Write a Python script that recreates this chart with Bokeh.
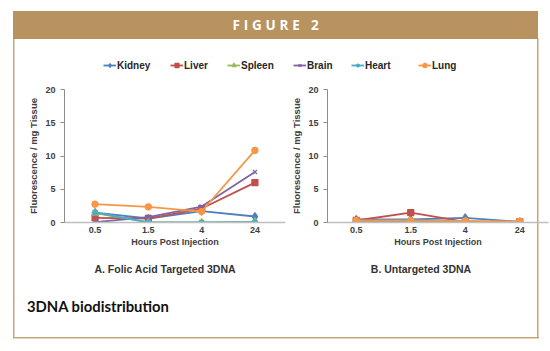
from bokeh.plotting import figure
from bokeh.models import FactorRange, Range1d, Legend, LegendItem, Div, FixedTicker
from bokeh.layouts import column, row
from bokeh.embed import file_html
from bokeh.resources import INLINE

# ---------------- data ----------------
categories = ["0.5", "1.5", "4", "24"]
y_ticks = [0, 5, 10, 15, 20]
series_names = ["Kidney", "Liver", "Spleen", "Brain", "Heart", "Lung"]

# A. Folic Acid Targeted 3DNA
kidney_a = [1.5, 0.6, 1.7, 0.9]
liver_a = [0.7, 0.6, 2.1, 6.0]
spleen_a = [1.4, 0.05, 0.0, 0.1]
brain_a = [0.05, 0.8, 2.4, 7.6]
heart_a = [1.5, 0.0, 0.0, 0.05]
lung_a = [2.75, 2.35, 1.65, 10.85]

# B. Untargeted 3DNA
kidney_b = [0.45, 0.45, 0.7, 0.1]
liver_b = [0.3, 1.5, 0.1, 0.1]
spleen_b = [0.05, 0.05, 0.05, 0.05]
brain_b = [0.1, 0.1, 0.1, 0.05]
heart_b = [0.2, 0.2, 0.1, 0.05]
lung_b = [0.3, 0.3, 0.25, 0.15]

panel_a = [kidney_a, liver_a, spleen_a, brain_a, heart_a, lung_a]
panel_b = [kidney_b, liver_b, spleen_b, brain_b, heart_b, lung_b]

# ---------------- styles ----------------
colors = ["#4F81BD", "#C0504D", "#9BBB59", "#8064A2", "#4BACC6", "#F79646"]
markers = ["diamond", "square", "triangle", "x", "asterisk", "circle"]
msizes = [8, 6, 7, 6, 7, 6]
legend_xs = [103, 170, 227, 293, 351, 418]
FONT = "Liberation Sans"
TAN = "#B8925F"
BORDER = "#C6A675"


def make_panel(values, frame_width, border_left, range_padding):
    p = figure(
        x_range=FactorRange(*categories, range_padding=range_padding),
        y_range=Range1d(0, 20),
        frame_width=frame_width, frame_height=133,
        min_border_left=border_left, min_border_right=2,
        min_border_top=9, min_border_bottom=29,
        output_backend="svg", toolbar_location=None,
        border_fill_color=None, background_fill_color=None,
        outline_line_color=None,
    )
    p.grid.visible = False
    for vals, c, m, s in zip(values, colors, markers, msizes):
        p.line(x=categories, y=vals, line_color=c, line_width=1.8)
        p.scatter(x=categories, y=vals, marker=m, size=s, fill_color=c,
                  line_color=c, line_width=1.3)

    xa = p.xaxis[0]
    xa.axis_line_color = "#BFBFBF"
    xa.axis_line_width = 1.5
    xa.major_tick_line_color = None
    xa.major_tick_out = 0
    xa.major_tick_in = 0
    xa.minor_tick_line_color = None
    xa.major_label_standoff = 4
    xa.major_label_text_font = FONT
    xa.major_label_text_font_size = "9px"
    xa.major_label_text_font_style = "bold"
    xa.major_label_text_color = "#404040"
    xa.axis_label = "Hours Post Injection"
    xa.axis_label_standoff = 1
    xa.axis_label_text_font = FONT
    xa.axis_label_text_font_size = "9px"
    xa.axis_label_text_font_style = "bold"
    xa.axis_label_text_color = "#404040"

    ya = p.yaxis[0]
    ya.ticker = FixedTicker(ticks=y_ticks)
    ya.axis_line_color = "#8C8C8C"
    ya.major_tick_line_color = "#8C8C8C"
    ya.major_tick_out = 4
    ya.major_tick_in = 0
    ya.minor_tick_line_color = None
    ya.major_label_standoff = 5
    ya.major_label_text_font = FONT
    ya.major_label_text_font_size = "9px"
    ya.major_label_text_font_style = "bold"
    ya.major_label_text_color = "#404040"
    ya.axis_label = "Fluorescence / mg Tissue"
    ya.axis_label_standoff = 3
    ya.axis_label_text_font = FONT
    ya.axis_label_text_font_size = "9.5px"
    ya.axis_label_text_font_style = "bold"
    ya.axis_label_text_color = "#404040"
    return p


fig_a = make_panel(panel_a, 224, 64, 0.037)
fig_b = make_panel(panel_b, 223, 35, 0.0136)

# legend strip: hidden copies of the panel A series serve as legend proxies
strip = figure(
    width=550, height=41, x_range=FactorRange(*categories), y_range=Range1d(0, 20),
    min_border=0, x_axis_location=None, y_axis_location=None,
    output_backend="svg", toolbar_location=None,
    border_fill_color=None, background_fill_color=None, outline_line_color=None,
)
strip.grid.visible = False
for name, vals, c, m, s, lx in zip(series_names, panel_a, colors, markers, msizes, legend_xs):
    l = strip.line(x=categories, y=vals, line_color=c, line_width=1.8, visible=False)
    sc = strip.scatter(x=categories, y=vals, marker=m, size=s, fill_color=c,
                       line_color=c, line_width=1.3, visible=False)
    strip.add_layout(Legend(
        items=[LegendItem(label=name, renderers=[l, sc])],
        location=(lx, 9), orientation="horizontal",
        padding=0, margin=0, spacing=0,
        border_line_color=None, background_fill_alpha=0,
        glyph_width=13, glyph_height=10, label_height=12,
        label_standoff=1, click_policy="none",
        label_text_font=FONT, label_text_font_size="10px",
        label_text_font_style="bold", label_text_color="#262626",
    ))

hdr = Div(
    text=(
        '<div style="padding:11px 0 0 13px;box-sizing:border-box;height:39px;">'
        f'<div style="width:525px;height:28px;background:{TAN};color:#ffffff;'
        "font-family:'Open Sans';font-weight:700;font-size:13.5px;letter-spacing:3.8px;"
        'padding-left:4px;box-sizing:border-box;text-align:center;line-height:28px;">'
        'FIGURE 2</div></div>'
    ),
    width=550, height=39, margin=0,
)

foot = Div(
    text=(
        f"<div style=\"position:relative;width:550px;height:100px;font-family:'{FONT}';\">"
        '<div style="position:absolute;left:65px;top:11px;width:200px;text-align:center;'
        'font-size:10.5px;font-weight:700;line-height:14px;color:#333333;">A. Folic Acid Targeted 3DNA</div>'
        '<div style="position:absolute;left:321px;top:11px;width:200px;text-align:center;'
        'font-size:10.5px;font-weight:700;line-height:14px;color:#333333;">B. Untargeted 3DNA</div>'
        '<div style="position:absolute;left:27px;top:47px;white-space:nowrap;'
        "font-family:'Lato';font-weight:700;font-size:14.8px;line-height:16px;color:#111111;\">3DNA biodistribution</div>"
        '</div>'
    ),
    width=550, height=100, margin=0,
)

g = f"linear-gradient({BORDER},{BORDER})"
root = column(
    hdr, strip, row(fig_a, fig_b), foot,
    width=550, height=351,
    styles={
        "background-image": f"{g}, {g}, {g}",
        "background-size": "1.5px 300px, 1.5px 300px, 526px 1.5px",
        "background-position": "12.5px 38px, 537px 38px, 12.5px 336.5px",
        "background-repeat": "no-repeat",
    },
)

open("out.html", "w").write(file_html(root, INLINE))
